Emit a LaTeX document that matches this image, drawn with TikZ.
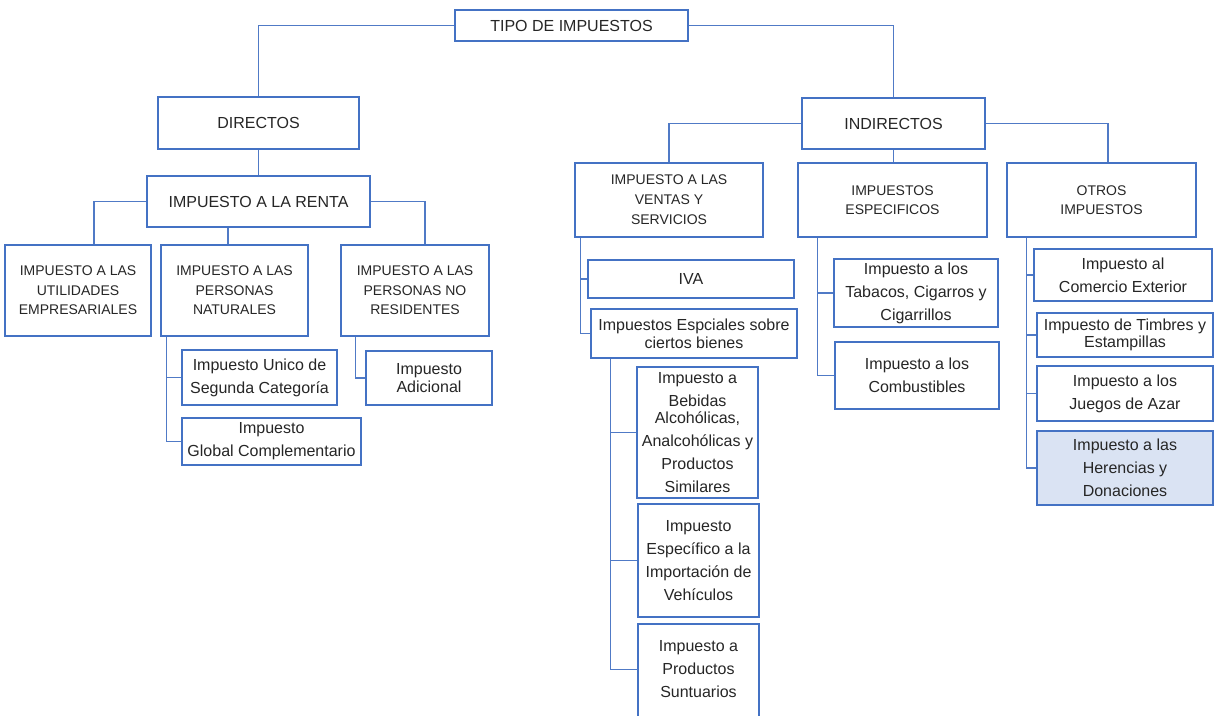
\documentclass[tikz,border=0pt]{standalone}
\usepackage{fontspec}
\setmainfont{Liberation Sans}
\definecolor{bcol}{RGB}{68,114,196}
\definecolor{lcol}{RGB}{80,122,198}
\definecolor{tcol}{RGB}{38,38,38}
\definecolor{hfill}{RGB}{218,227,243}
\begin{document}
\begin{tikzpicture}[x=1pt,y=-1pt,
  box/.style={draw=bcol,line width=1.1pt,fill=white,inner sep=0pt,align=center,text=tcol},
  big/.style={font=\fontsize{16}{19}\selectfont},
  capt/.style={font=\fontsize{14}{19.5}\selectfont},
  low/.style={font=\fontsize{16}{23}\selectfont},
  tight/.style={font=\fontsize{16}{17.5}\selectfont},
  link/.style={draw=lcol,line width=1.1pt}]
\useasboundingbox (0,0) rectangle (1215,715);

% top
\node[box,big,minimum width=233,minimum height=31] (tipo) at (571.5,25.5) {TIPO DE IMPUESTOS};
\node[box,big,minimum width=201,minimum height=52] (dir) at (258.5,123) {DIRECTOS};
\node[box,big,minimum width=183,minimum height=51] (ind) at (893.5,123.5) {INDIRECTOS};

% directos branch
\node[box,big,minimum width=223,minimum height=51] (renta) at (258.5,201.5) {IMPUESTO A LA RENTA};
\node[box,capt,minimum width=146,minimum height=91] (util) at (78,290.5) {IMPUESTO A LAS\\UTILIDADES\\EMPRESARIALES};
\node[box,capt,minimum width=147,minimum height=91] (nat) at (234.5,290.5) {IMPUESTO A LAS\\PERSONAS\\NATURALES};
\node[box,capt,minimum width=148,minimum height=91] (nores) at (415,290.5) {IMPUESTO A LAS\\PERSONAS NO\\RESIDENTES};
\node[box,low,minimum width=155,minimum height=55] (unico) at (259.5,377.5) {Impuesto Unico de\\Segunda Categoría};
\node[box,low,minimum width=179,minimum height=47] (global) at (271.5,441.5) {Impuesto\\Global Complementario};
\node[box,tight,minimum width=126,minimum height=54] (adic) at (429,378) {Impuesto\\Adicional};

% indirectos branch
\node[box,font=\fontsize{14}{20}\selectfont,minimum width=188,minimum height=74] (ivs) at (669,200) {IMPUESTO A LAS\\VENTAS Y\\SERVICIOS};
\node[box,font=\fontsize{14}{19}\selectfont,minimum width=189,minimum height=74] (esp) at (892.5,200) {IMPUESTOS\\ESPECIFICOS};
\node[box,font=\fontsize{14}{19}\selectfont,minimum width=189,minimum height=74] (otros) at (1101.5,200) {OTROS\\IMPUESTOS};

\node[box,low,minimum width=206,minimum height=38] (iva) at (691,279) {IVA};
\node[box,font=\fontsize{16}{18}\selectfont,minimum width=206,minimum height=49] (espc) at (694,333.5) {Impuestos Espciales sobre\\ciertos bienes};
\node[box,low,minimum width=121,minimum height=131] (beb) at (697.5,432.5) {Impuesto a\\Bebidas\\[-6pt]Alcohólicas,\\Analcohólicas y\\Productos\\Similares};
\node[box,low,minimum width=121,minimum height=113] (veh) at (698.5,560.5) {Impuesto\\Específico a la\\Importación de\\Vehículos};
\draw[draw=bcol,line width=1.1pt] (638,730) |- (759,624) -- (759,730);
\node[low,align=center,text=tcol,inner sep=0pt,minimum width=121] (sunt) at (698.5,669.5) {Impuesto a\\Productos\\Suntuarios};

\node[box,low,minimum width=164,minimum height=68] (tab) at (916,293) {Impuesto a los\\Tabacos, Cigarros y\\Cigarrillos};
\node[box,low,minimum width=164,minimum height=67] (comb) at (917,375.5) {Impuesto a los\\Combustibles};

\node[box,low,minimum width=178,minimum height=52] (com) at (1123,275) {Impuesto al\\Comercio Exterior};
\node[box,tight,minimum width=176,minimum height=44] (timb) at (1125,335) {Impuesto de Timbres y\\Estampillas};
\node[box,low,minimum width=176,minimum height=55] (jue) at (1125,393.5) {Impuesto a los\\Juegos de Azar};
\node[box,low,fill=hfill,minimum width=176,minimum height=74] (her) at (1125,468) {Impuesto a las\\Herencias y\\Donaciones};

% connectors
\draw[link] (tipo.west) -| (dir.north);
\draw[link] (tipo.east) -| (ind.north);
\draw[link] (dir.south) -- (renta.north);
\draw[link] (renta.west) -| ([xshift=16]util.north);
\draw[link] (renta.east) -| ([xshift=10]nores.north);
\coordinate (natc) at ([xshift=-6.5]nat.north);
\draw[link] (natc) -- (natc |- renta.south);
\draw[link] ([xshift=6]nat.south west) |- (unico.west);
\draw[link] ([xshift=6]nat.south west) |- (global.west);
\draw[link] ([xshift=15]nores.south west) |- (adic.west);

\draw[link] (ind.west) -| (ivs.north);
\draw[link] (ind.south) -- (ind.south |- esp.north);
\draw[link] (ind.east) -| ([xshift=6.5]otros.north);
\draw[link] ([xshift=6]ivs.south west) |- (iva.west);
\draw[link] ([xshift=6]ivs.south west) |- (espc.west);
\draw[link] ([xshift=20]espc.south west) |- (beb.west);
\draw[link] ([xshift=20]espc.south west) |- (veh.west);
\draw[link] ([xshift=20]espc.south west) |- (sunt.west);
\draw[link] ([xshift=20]esp.south west) |- (tab.west);
\draw[link] ([xshift=20]esp.south west) |- (comb.west);
\draw[link] ([xshift=20]otros.south west) |- (com.west);
\draw[link] ([xshift=20]otros.south west) |- (timb.west);
\draw[link] ([xshift=20]otros.south west) |- (jue.west);
\draw[link] ([xshift=20]otros.south west) |- (her.west);
\end{tikzpicture}
\end{document}
